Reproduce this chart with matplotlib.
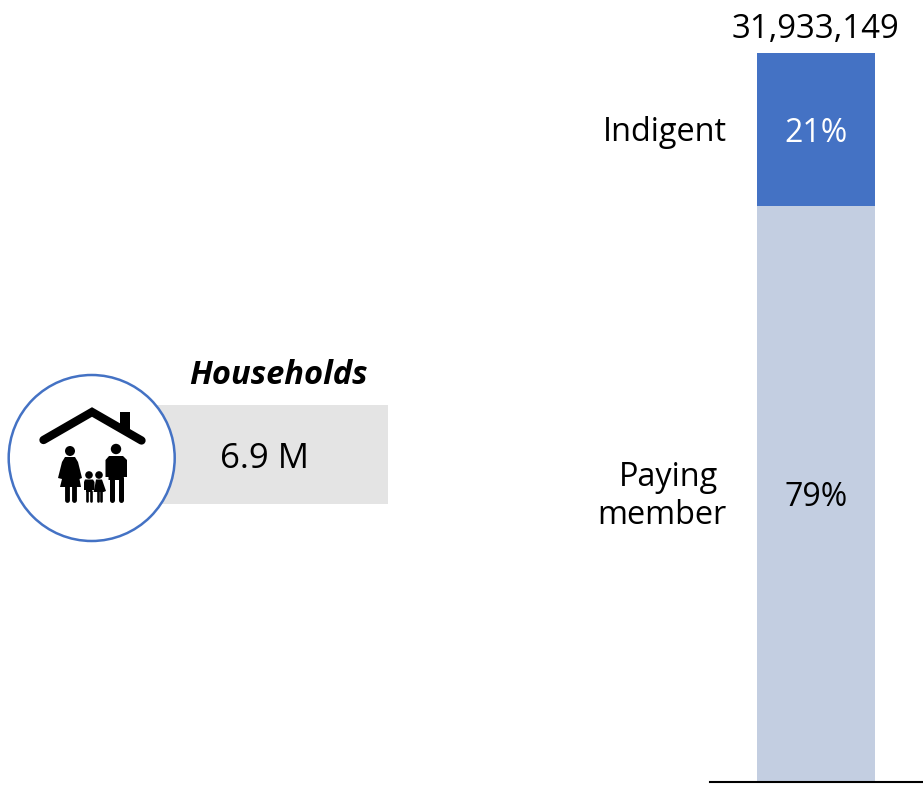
import matplotlib
matplotlib.use('Agg')
import matplotlib.pyplot as plt
from matplotlib.patches import Circle, Rectangle, Polygon

plt.rcParams['font.family'] = ['Open Sans', 'DejaVu Sans']

# stacked bar values (percent of members)
segments = ['Paying\nmember', 'Indigent']
shares = [79, 21]
share_labels = ['79%', '21%']
total_label = '31,933,149'
households_title = 'Households'
households_label = '6.9 M'

W, H = 923, 786
fig = plt.figure(figsize=(W/100, H/100), dpi=100)

# whole figure in pixel coords, for the household badge and text
bg = fig.add_axes([0, 0, 1, 1])
bg.set_xlim(0, W)
bg.set_ylim(H, 0)
bg.axis('off')

# bar axes, the spine is the baseline
ax = fig.add_axes([710/W, (H-782)/H, 212/W, 729/H])
ax.set_xlim(710, 922)
ax.set_ylim(0, 100)
ax.patch.set_alpha(0)
for s in ['top', 'left', 'right']:
    ax.spines[s].set_visible(False)
ax.spines['bottom'].set_linewidth(1.5)
ax.spines['bottom'].set_color('black')
ax.set_xticks([])
ax.set_yticks([])

colors = ['#C3CEE1', '#4472C4']
textcolors = ['black', 'white']
bottom = 0
for i in range(len(shares)):
    ax.bar(816, shares[i], width=118, bottom=bottom, color=colors[i], linewidth=0)
    mid = bottom + shares[i]/2
    ax.text(816, mid - 0.5, share_labels[i], color=textcolors[i], fontsize=23,
            ha='center', va='center')
    bottom += shares[i]

# segment names left of the bar
ax.text(727, 89.1, segments[1], fontsize=23.4, ha='right', va='center')
line1, line2 = segments[0].split('\n')
bg.text(718, 477, line1, fontsize=23.4, ha='right', va='center')
bg.text(726.5, 515.5, line2, fontsize=23.4, ha='right', va='center')
bg.text(815, 29, total_label, fontsize=23.8, ha='center', va='center')

# grey box and badge
bg.add_patch(Rectangle((150, 405), 238, 99, color='#E4E4E4', lw=0))
bg.add_patch(Circle((91.7, 458), 83, fc='white', ec='#4472C4', lw=1.8, zorder=2))
bg.text(264, 459, households_label, fontsize=25, ha='center', va='center')
bg.text(278.5, 375, households_title, fontsize=23.5, style='italic', weight='bold',
        ha='center', va='center')

# house icon
bg.plot([43.5, 92, 141.5], [440, 412, 440.5], color='black', lw=6,
        solid_capstyle='round', solid_joinstyle='miter', zorder=3)
bg.add_patch(Polygon([(120, 412), (130, 412), (130, 432), (120, 426)], fc='black', lw=0, zorder=3))

def head(x, y, r):
    bg.add_patch(Circle((x, y), r, fc='black', lw=0, zorder=3))

def legs(xs, y0, y1, lw):
    for x in xs:
        bg.plot([x, x], [y0, y1], color='black', lw=lw, solid_capstyle='round', zorder=3)

# woman
head(70, 451, 5)
bg.add_patch(Polygon([(65, 457), (75, 457), (78, 462), (82, 478), (79.5, 479), (81, 487),
                      (60, 487), (62, 479), (58, 478), (62, 462)], fc='black', lw=0, zorder=3))
legs([66.5, 73.5], 486, 500, 3.5)
# man
head(116, 449, 5.2)
bg.add_patch(Polygon([(109, 456), (123, 456), (127, 460), (127, 477), (123.5, 477), (123.5, 480),
                      (108.5, 480), (108.5, 477), (105.5, 477), (105.5, 460)], fc='black', lw=0, zorder=3))
legs([112, 120.5], 478, 500, 3.6)
# boy
head(89, 475, 3.8)
bg.add_patch(Polygon([(85, 479.5), (93, 479.5), (94.5, 482), (94.5, 490), (92, 490), (92, 492),
                      (86, 492), (86, 490), (84, 490), (84, 482)], fc='black', lw=0, zorder=3))
legs([87, 91], 491, 500.5, 1.9)
# girl
head(99, 475, 3.8)
bg.add_patch(Polygon([(96, 479.5), (102, 479.5), (106, 491), (103.5, 492), (93.5, 492), (94.5, 488)],
                     fc='black', lw=0, zorder=3))
legs([97.5, 101], 491, 500.5, 1.9)

fig.savefig('out.png', dpi=100)
